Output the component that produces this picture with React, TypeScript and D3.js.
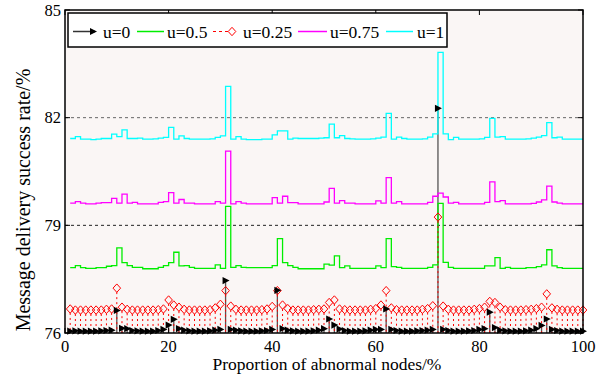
import React from 'react';
import * as d3 from 'd3';

// proportion of abnormal nodes (%)
const proportion = [
  1, 2, 3, 4, 5, 6, 7, 8, 9, 10, 11, 12, 13, 14, 15, 16, 17, 18, 19, 20,
  21, 22, 23, 24, 25, 26, 27, 28, 29, 30, 31, 32, 33, 34, 35, 36, 37, 38, 39, 40,
  41, 42, 43, 44, 45, 46, 47, 48, 49, 50, 51, 52, 53, 54, 55, 56, 57, 58, 59, 60,
  61, 62, 63, 64, 65, 66, 67, 68, 69, 70, 71, 72, 73, 74, 75, 76, 77, 78, 79, 80,
  81, 82, 83, 84, 85, 86, 87, 88, 89, 90, 91, 92, 93, 94, 95, 96, 97, 98, 99, 100,
];

// u = 0 (stem, black triangles)
const rateU0 = [
  76.05, 76.06, 76.05, 76.05, 76.05, 76.05, 76.06, 76.07, 76.08, 76.63, 76.13, 76.12, 76.07, 76.06, 76.05, 76.05, 76.05, 76.07, 76.10, 76.22,
  76.38, 76.12, 76.08, 76.06, 76.05, 76.05, 76.05, 76.06, 76.08, 76.10, 77.46, 76.10, 76.08, 76.06, 76.05, 76.05, 76.05, 76.06, 76.07, 76.10,
  77.19, 76.12, 76.08, 76.06, 76.05, 76.05, 76.05, 76.06, 76.08, 76.12, 76.39, 76.22, 76.11, 76.07, 76.05, 76.05, 76.05, 76.06, 76.08, 76.10,
  76.10, 76.67, 76.10, 76.07, 76.05, 76.05, 76.05, 76.06, 76.07, 76.08, 76.10, 82.26, 76.10, 76.07, 76.05, 76.05, 76.05, 76.06, 76.07, 76.10,
  76.12, 76.58, 76.15, 76.08, 76.06, 76.05, 76.05, 76.05, 76.06, 76.08, 76.12, 76.21, 76.39, 76.10, 76.07, 76.05, 76.05, 76.05, 76.05, 76.05,
];

// u = 0.25 (stem, red diamonds)
const rateU025 = [
  76.67, 76.64, 76.64, 76.64, 76.64, 76.64, 76.64, 76.66, 76.67, 77.25, 76.72, 76.66, 76.64, 76.64, 76.64, 76.64, 76.64, 76.65, 76.67, 76.92,
  76.78, 76.72, 76.66, 76.64, 76.64, 76.64, 76.64, 76.65, 76.70, 76.80, 77.18, 76.75, 76.66, 76.64, 76.64, 76.64, 76.64, 76.65, 76.67, 76.74,
  77.18, 76.78, 76.68, 76.64, 76.64, 76.64, 76.64, 76.65, 76.66, 76.67, 76.85, 76.92, 76.67, 76.65, 76.64, 76.64, 76.64, 76.64, 76.66, 76.68,
  76.78, 77.18, 76.70, 76.65, 76.64, 76.64, 76.64, 76.64, 76.66, 76.68, 76.76, 79.23, 76.75, 76.66, 76.64, 76.64, 76.64, 76.64, 76.66, 76.68,
  76.72, 76.88, 76.85, 76.72, 76.65, 76.64, 76.64, 76.64, 76.65, 76.66, 76.68, 76.72, 77.09, 76.70, 76.66, 76.64, 76.64, 76.64, 76.64, 76.64,
];

// u = 0.5
const rateU05 = [
  77.82, 77.88, 77.82, 77.80, 77.80, 77.82, 77.82, 77.86, 77.88, 78.37, 77.96, 77.88, 77.83, 77.83, 77.79, 77.79, 77.79, 77.83, 77.88, 77.96,
  78.25, 77.87, 77.88, 77.83, 77.80, 77.80, 77.80, 77.80, 77.90, 77.80, 79.53, 77.83, 77.88, 77.83, 77.82, 77.82, 77.82, 77.82, 77.82, 77.88,
  78.63, 77.96, 77.88, 77.83, 77.79, 77.79, 77.79, 77.79, 77.79, 77.92, 77.89, 78.15, 77.82, 77.87, 77.80, 77.80, 77.80, 77.80, 77.80, 77.87,
  77.82, 78.63, 77.85, 77.83, 77.80, 77.80, 77.80, 77.80, 77.80, 77.83, 77.90, 79.61, 77.97, 77.83, 77.80, 77.80, 77.80, 77.80, 77.80, 77.80,
  77.87, 77.87, 78.10, 77.80, 77.83, 77.80, 77.80, 77.80, 77.82, 77.82, 77.85, 77.90, 78.32, 77.87, 77.82, 77.80, 77.80, 77.80, 77.80, 77.80,
];

// u = 0.75
const rateU075 = [
  79.62, 79.66, 79.62, 79.60, 79.60, 79.62, 79.63, 79.63, 79.75, 79.62, 79.87, 79.62, 79.64, 79.60, 79.60, 79.60, 79.60, 79.64, 79.66, 79.91,
  79.62, 79.72, 79.62, 79.62, 79.60, 79.60, 79.60, 79.60, 79.66, 79.62, 81.07, 79.60, 79.66, 79.62, 79.60, 79.60, 79.60, 79.60, 79.60, 79.77,
  79.62, 79.81, 79.63, 79.63, 79.60, 79.60, 79.60, 79.60, 79.60, 79.65, 80.03, 79.62, 79.69, 79.62, 79.62, 79.60, 79.60, 79.60, 79.60, 79.68,
  79.62, 80.33, 79.62, 79.66, 79.60, 79.60, 79.60, 79.60, 79.60, 79.64, 79.81, 79.90, 79.79, 79.62, 79.64, 79.60, 79.60, 79.60, 79.60, 79.60,
  79.64, 80.21, 79.66, 79.69, 79.60, 79.60, 79.60, 79.60, 79.60, 79.61, 79.65, 79.71, 80.09, 79.65, 79.62, 79.60, 79.60, 79.60, 79.60, 79.60,
];

// u = 1
const rateU1 = [
  81.42, 81.47, 81.40, 81.40, 81.39, 81.40, 81.42, 81.42, 81.54, 81.47, 81.66, 81.42, 81.42, 81.43, 81.40, 81.40, 81.41, 81.43, 81.45, 81.73,
  81.40, 81.49, 81.42, 81.40, 81.40, 81.40, 81.40, 81.41, 81.45, 81.49, 82.87, 81.40, 81.47, 81.40, 81.39, 81.39, 81.39, 81.40, 81.40, 81.52,
  81.63, 81.63, 81.40, 81.43, 81.42, 81.42, 81.42, 81.42, 81.43, 81.44, 81.82, 81.44, 81.50, 81.42, 81.41, 81.40, 81.40, 81.40, 81.41, 81.43,
  81.46, 82.12, 81.40, 81.46, 81.42, 81.40, 81.40, 81.40, 81.41, 81.46, 81.55, 83.82, 81.55, 81.39, 81.45, 81.40, 81.40, 81.40, 81.40, 81.41,
  81.45, 81.98, 81.46, 81.47, 81.40, 81.40, 81.40, 81.40, 81.41, 81.43, 81.46, 81.50, 81.86, 81.44, 81.46, 81.40, 81.40, 81.40, 81.40, 81.40,
];

const xTicks = [0, 20, 40, 60, 80, 100];
const yTicks = [76, 79, 82, 85];
const gridLines = [79, 82];

const FONT = '"Liberation Serif", serif';

const stepSeries = [
  { label: 'u=0.5', values: rateU05, color: '#00ee00' },
  { label: 'u=0.75', values: rateU075, color: '#ff00ff' },
  { label: 'u=1', values: rateU1, color: '#00ffff' },
];

function App() {
  const width = 613;
  const height = 375;
  const margin = { top: 10, right: 30, bottom: 42, left: 65 };
  const plotW = width - margin.left - margin.right;
  const plotH = height - margin.top - margin.bottom;

  const x = d3.scaleLinear().domain([0, 100]).range([margin.left, margin.left + plotW]);
  const y = d3.scaleLinear().domain([76, 85]).range([margin.top + plotH, margin.top]);
  const y0 = y(76);

  const line = d3.line<[number, number]>()
    .x((d) => x(d[0]))
    .y((d) => y(d[1]))
    .curve(d3.curveStepAfter);

  const tri = 'M-3,-3.6L4,0L-3,3.6Z';
  const diamond = 'M0,-4.2L3.8,0L0,4.2L-3.8,0Z';

  // legend row
  const ly = 31.5;
  const lfs = 17.5;

  return (
    <svg width={width} height={height} style={{ position: 'absolute', left: 0, top: 0, background: '#fff' }}>
      <rect x={margin.left} y={margin.top} width={plotW} height={plotH} fill="#faf6f5" />

      {gridLines.map((g) => (
        <line key={g} x1={margin.left} x2={margin.left + plotW} y1={y(g)} y2={y(g)}
          stroke={g === 82 ? '#666' : '#222'} strokeWidth={1} strokeDasharray="3,3" />
      ))}

      {/* u=0 stems */}
      {proportion.map((p, i) => (
        <line key={'bs' + p} x1={x(p)} x2={x(p)} y1={y(rateU0[i])} y2={y0} stroke="#555" strokeWidth={1.3} />
      ))}

      {/* u=0.5 */}
      <path d={line(proportion.map((p, i) => [p, rateU05[i]]))} fill="none" stroke={stepSeries[0].color} strokeWidth={1.3} />

      {/* u=0.25 stems + diamonds */}
      {proportion.map((p, i) => (
        <line key={'rs' + p} x1={x(p)} x2={x(p)} y1={y(rateU025[i]) + 4} y2={y0}
          stroke="#ff0000" strokeWidth={1} strokeDasharray="2,3" />
      ))}
      {proportion.map((p, i) => (
        <path key={'rd' + p} d={diamond} transform={`translate(${x(p)},${y(rateU025[i])})`}
          fill="none" stroke="#ff0000" strokeWidth={1} />
      ))}

      {/* u=0.75, u=1 */}
      <path d={line(proportion.map((p, i) => [p, rateU075[i]]))} fill="none" stroke={stepSeries[1].color} strokeWidth={1.3} />
      <path d={line(proportion.map((p, i) => [p, rateU1[i]]))} fill="none" stroke={stepSeries[2].color} strokeWidth={1.3} />

      {/* u=0 markers */}
      {proportion.map((p, i) => (
        <path key={'bt' + p} d={tri} transform={`translate(${x(p)},${y(rateU0[i])})`} fill="#000" />
      ))}

      {/* axes box */}
      <rect x={margin.left} y={margin.top} width={plotW} height={plotH} fill="none" stroke="#000" strokeWidth={1.5} />

      {xTicks.map((t) => (
        <g key={'xt' + t}>
          <line x1={x(t)} x2={x(t)} y1={y0} y2={y0 - 5} stroke="#000" />
          <line x1={x(t)} x2={x(t)} y1={margin.top} y2={margin.top + 5} stroke="#000" />
          <text x={x(t)} y={346} textAnchor="middle" dominantBaseline="central"
            fontFamily={FONT} fontSize={16.5}>{t}</text>
        </g>
      ))}
      {yTicks.map((t) => (
        <g key={'yt' + t}>
          <line x1={margin.left} x2={margin.left + 5} y1={y(t)} y2={y(t)} stroke="#000" />
          <line x1={margin.left + plotW} x2={margin.left + plotW - 5} y1={y(t)} y2={y(t)} stroke="#000" />
          <text x={61} y={y(t)} textAnchor="end" dominantBaseline="central"
            fontFamily={FONT} fontSize={16.5}>{t}</text>
        </g>
      ))}

      <text x={327} y={370} textAnchor="middle" fontFamily={FONT} fontSize={17.5}>
        Proportion of abnormal nodes/%
      </text>
      <text transform="translate(30,200) rotate(-90)" textAnchor="middle" fontFamily={FONT} fontSize={20}>
        Message delivery success rate/%
      </text>

      {/* legend */}
      <rect x={68} y={13} width={379} height={34} fill="#fff" stroke="#000" strokeWidth={1.5} />
      <line x1={73} x2={95} y1={ly} y2={ly} stroke="#333" strokeWidth={1.5} />
      <path d={tri} transform={`translate(93,${ly})`} fill="#000" />
      <text x={103} y={ly} dominantBaseline="central" fontFamily={FONT} fontSize={lfs}>u=0</text>

      <line x1={137} x2={164} y1={ly} y2={ly} stroke={stepSeries[0].color} strokeWidth={1.5} />
      <text x={167} y={ly} dominantBaseline="central" fontFamily={FONT} fontSize={lfs}>u=0.5</text>

      <line x1={213} x2={237} y1={ly} y2={ly} stroke="#ff0000" strokeWidth={1} strokeDasharray="3,3" />
      <path d={diamond} transform={`translate(232,${ly})`} fill="#fff" stroke="#ff0000" strokeWidth={1} />
      <text x={243} y={ly} dominantBaseline="central" fontFamily={FONT} fontSize={lfs}>u=0.25</text>

      <line x1={298} x2={327} y1={ly} y2={ly} stroke={stepSeries[1].color} strokeWidth={1.5} />
      <text x={330} y={ly} dominantBaseline="central" fontFamily={FONT} fontSize={lfs}>u=0.75</text>

      <line x1={386} x2={413} y1={ly} y2={ly} stroke={stepSeries[2].color} strokeWidth={1.5} />
      <text x={417} y={ly} dominantBaseline="central" fontFamily={FONT} fontSize={lfs}>u=1</text>
    </svg>
  );
}

export default App;
